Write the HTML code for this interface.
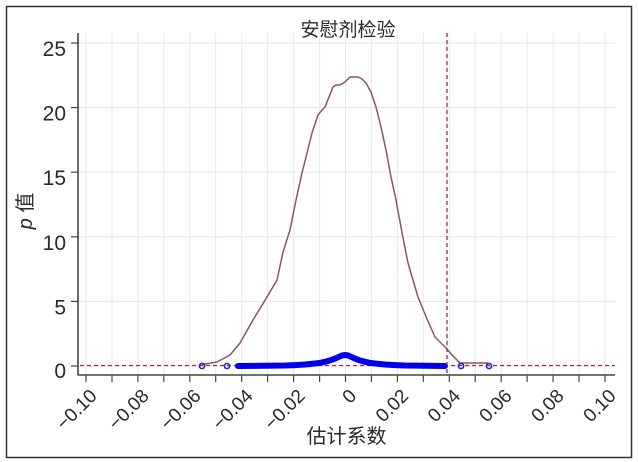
<!DOCTYPE html>
<html>
<head>
<meta charset="utf-8">
<style>
html,body{margin:0;padding:0;background:#fff;}
svg{display:block;}
text{font-family:"Liberation Sans","Noto Sans CJK SC",sans-serif;fill:#2a2a2a;}
</style>
</head>
<body>
<svg width="638" height="462" viewBox="0 0 638 462" xmlns="http://www.w3.org/2000/svg">
<rect x="0" y="0" width="638" height="462" fill="#fff"/>
<rect x="6.5" y="6.5" width="625" height="451" fill="none" stroke="#333" stroke-width="1.5"/>

<!-- vertical gridlines -->
<g stroke="#e4eaee" stroke-width="1">
<line x1="86" y1="33" x2="86" y2="375"/>
<line x1="112" y1="33" x2="112" y2="375"/>
<line x1="137.9" y1="33" x2="137.9" y2="375"/>
<line x1="163.8" y1="33" x2="163.8" y2="375"/>
<line x1="189.8" y1="33" x2="189.8" y2="375"/>
<line x1="215.7" y1="33" x2="215.7" y2="375"/>
<line x1="241.7" y1="33" x2="241.7" y2="375"/>
<line x1="267.6" y1="33" x2="267.6" y2="375"/>
<line x1="293.6" y1="33" x2="293.6" y2="375"/>
<line x1="319.6" y1="33" x2="319.6" y2="375"/>
<line x1="345.5" y1="33" x2="345.5" y2="375"/>
<line x1="371.4" y1="33" x2="371.4" y2="375"/>
<line x1="397.4" y1="33" x2="397.4" y2="375"/>
<line x1="423.3" y1="33" x2="423.3" y2="375"/>
<line x1="449.3" y1="33" x2="449.3" y2="375"/>
<line x1="475.2" y1="33" x2="475.2" y2="375"/>
<line x1="501.2" y1="33" x2="501.2" y2="375"/>
<line x1="527.1" y1="33" x2="527.1" y2="375"/>
<line x1="553.1" y1="33" x2="553.1" y2="375"/>
<line x1="579" y1="33" x2="579" y2="375"/>
<line x1="605" y1="33" x2="605" y2="375"/>
</g>
<!-- horizontal gridlines -->
<g stroke="#e4eaee" stroke-width="1.2">
<line x1="78" y1="43" x2="615" y2="43"/>
<line x1="78" y1="107.6" x2="615" y2="107.6"/>
<line x1="78" y1="172.2" x2="615" y2="172.2"/>
<line x1="78" y1="236.8" x2="615" y2="236.8"/>
<line x1="78" y1="301.4" x2="615" y2="301.4"/>
<line x1="78" y1="366" x2="615" y2="366"/>
</g>

<!-- axes -->
<line x1="78" y1="33" x2="78" y2="375.5" stroke="#444" stroke-width="1.6"/>
<line x1="78" y1="375" x2="615" y2="375" stroke="#444" stroke-width="1.6"/>

<!-- y ticks -->
<g stroke="#444" stroke-width="1.2">
<line x1="71" y1="43" x2="78" y2="43"/>
<line x1="71" y1="107.6" x2="78" y2="107.6"/>
<line x1="71" y1="172.2" x2="78" y2="172.2"/>
<line x1="71" y1="236.8" x2="78" y2="236.8"/>
<line x1="71" y1="301.4" x2="78" y2="301.4"/>
<line x1="71" y1="366" x2="78" y2="366"/>
</g>
<g font-size="21" text-anchor="end">
<text x="66" y="56">25</text>
<text x="66" y="120.6">20</text>
<text x="66" y="185.2">15</text>
<text x="66" y="249.8">10</text>
<text x="66" y="314.4">5</text>
<text x="66" y="378">0</text>
</g>

<!-- x ticks -->
<g stroke="#444" stroke-width="1.2">
<line x1="86" y1="375" x2="86" y2="382"/>
<line x1="112" y1="375" x2="112" y2="382"/>
<line x1="137.9" y1="375" x2="137.9" y2="382"/>
<line x1="163.8" y1="375" x2="163.8" y2="382"/>
<line x1="189.8" y1="375" x2="189.8" y2="382"/>
<line x1="215.7" y1="375" x2="215.7" y2="382"/>
<line x1="241.7" y1="375" x2="241.7" y2="382"/>
<line x1="267.6" y1="375" x2="267.6" y2="382"/>
<line x1="293.6" y1="375" x2="293.6" y2="382"/>
<line x1="319.6" y1="375" x2="319.6" y2="382"/>
<line x1="345.5" y1="375" x2="345.5" y2="382"/>
<line x1="371.4" y1="375" x2="371.4" y2="382"/>
<line x1="397.4" y1="375" x2="397.4" y2="382"/>
<line x1="423.3" y1="375" x2="423.3" y2="382"/>
<line x1="449.3" y1="375" x2="449.3" y2="382"/>
<line x1="475.2" y1="375" x2="475.2" y2="382"/>
<line x1="501.2" y1="375" x2="501.2" y2="382"/>
<line x1="527.1" y1="375" x2="527.1" y2="382"/>
<line x1="553.1" y1="375" x2="553.1" y2="382"/>
<line x1="579" y1="375" x2="579" y2="382"/>
<line x1="605" y1="375" x2="605" y2="382"/>
</g>
<g font-size="19" text-anchor="end">
<text transform="translate(98,397) rotate(-45)">−0.10</text>
<text transform="translate(150,397) rotate(-45)">−0.08</text>
<text transform="translate(202,397) rotate(-45)">−0.06</text>
<text transform="translate(254,397) rotate(-45)">−0.04</text>
<text transform="translate(306,397) rotate(-45)">−0.02</text>
<text transform="translate(357.5,397) rotate(-45)">0</text>
<text transform="translate(409.5,397) rotate(-45)">0.02</text>
<text transform="translate(461.5,397) rotate(-45)">0.04</text>
<text transform="translate(513,397) rotate(-45)">0.06</text>
<text transform="translate(565,397) rotate(-45)">0.08</text>
<text transform="translate(617,397) rotate(-45)">0.10</text>
</g>

<!-- reference dashed lines -->
<line x1="80" y1="365.5" x2="615" y2="365.5" stroke="#a02a4a" stroke-width="1.3" stroke-dasharray="4,3"/>

<!-- density curve -->
<polyline fill="none" stroke="#8a5560" stroke-width="1.5" stroke-linejoin="round"
points="202,364.5 217,362 230,355 240,343 253,320 267,297 277,280 283,252 290,230 296,200 302,173 312,133 318,115 322,110 325,107 329,97 333,87 336,85 340,85 345,82 350,77 358,77 362,79 366,83 371,92 376,107 381,127 386,150 391,177 396,200 403,238 408,263 418,297 427,319 435,337 446,348 452,355 460,363 488,363"/>

<!-- blue band -->
<polyline fill="none" stroke="#0000ee" stroke-width="6" stroke-linecap="round" stroke-linejoin="round"
points="238,366 285,365.5 295,365.1 305,364.5 315,363.5 320,362.8 325,361.8 330,360.4 335,358.6 339,356.8 342,355.5 345,355 348,355.4 351,356.8 355,358.6 360,360.4 365,361.8 370,362.8 375,363.5 385,364.5 395,365.1 405,365.5 425,365.8 445,366"/>

<line x1="447" y1="33" x2="447" y2="375" stroke="#a02a4a" stroke-width="1.3" stroke-dasharray="4,3"/>

<!-- open circles -->
<g fill="none" stroke="#2a2ab8" stroke-width="1.6">
<circle cx="202" cy="366" r="2.6"/>
<circle cx="227" cy="366" r="2.6"/>
<circle cx="461" cy="366" r="2.6"/>
<circle cx="489" cy="366" r="2.6"/>
</g>

<!-- title & labels -->
<text x="348" y="36" font-size="19" text-anchor="middle">安慰剂检验</text>
<text x="346.5" y="443" font-size="20" text-anchor="middle">估计系数</text>
<text transform="translate(32,211) rotate(-90)" font-size="20" text-anchor="middle"><tspan font-style="italic">p</tspan> 值</text>
</svg>
</body>
</html>
